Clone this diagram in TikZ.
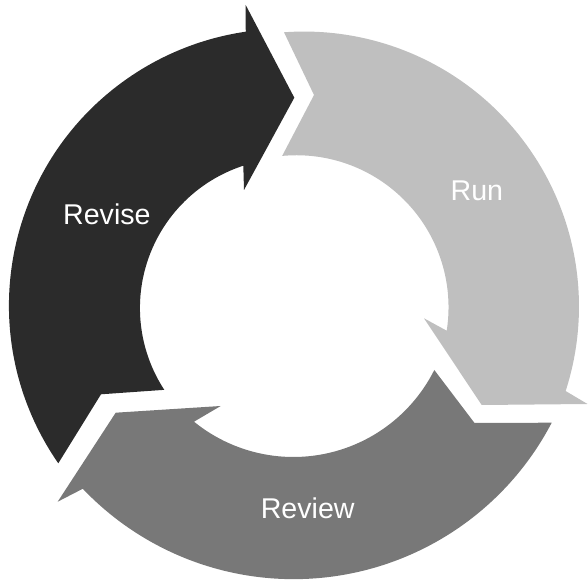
\documentclass[tikz,border=0pt]{standalone}
\usepackage{fontspec}
\setmainfont{Liberation Sans}
\definecolor{revisefill}{HTML}{2B2B2B}
\definecolor{runfill}{HTML}{BFBFBF}
\definecolor{reviewfill}{HTML}{787878}
\begin{document}
\begin{tikzpicture}[x=1pt,y=1pt,
  lbl/.style={text=white, font=\fontsize{28.6}{34}\selectfont, anchor=base, inner sep=0pt}]
\useasboundingbox (0,0) rectangle (588,580);

% Revise: left segment, head pointing right at the top
\fill[revisefill] (58.3,116.7) arc[start angle=214.74, end angle=98.31, radius=276.8]
  -- (245.7,575) -- (294.3,482.3) -- (244,390) -- (243.3,414.3)
  arc[start angle=108.03, end angle=213.12, radius=149.7]
  -- (101,185.7) -- cycle;

% Run: right segment, head pointing down at the lower right
\fill[runfill] (284,547.7) arc[start angle=94.19, end angle=-17.92, radius=274.9]
  -- (587.5,176) -- (481.7,175) -- (424,261.7) -- (446.7,249.3)
  arc[start angle=-8.88, end angle=95.43, radius=152]
  -- (314,485) -- cycle;

% Review: bottom segment, head pointing left at the lower left
\fill[reviewfill] (551.7,157.3) arc[start angle=-27.55, end angle=-136.41, radius=291.1]
  -- (57.7,78.3) -- (115.7,167.3) -- (220.7,174) -- (194,158.3)
  arc[start angle=-129.1, end angle=-26.61, radius=157.6]
  -- (474.5,157) -- cycle;

% Labels
\node[lbl] (revise) at (106.9,355) {Revise};
\node[lbl] (run) at (476.9,379.4) {Run};
\node[lbl] (review) at (307.7,61.7) {Review};
\end{tikzpicture}
\end{document}
